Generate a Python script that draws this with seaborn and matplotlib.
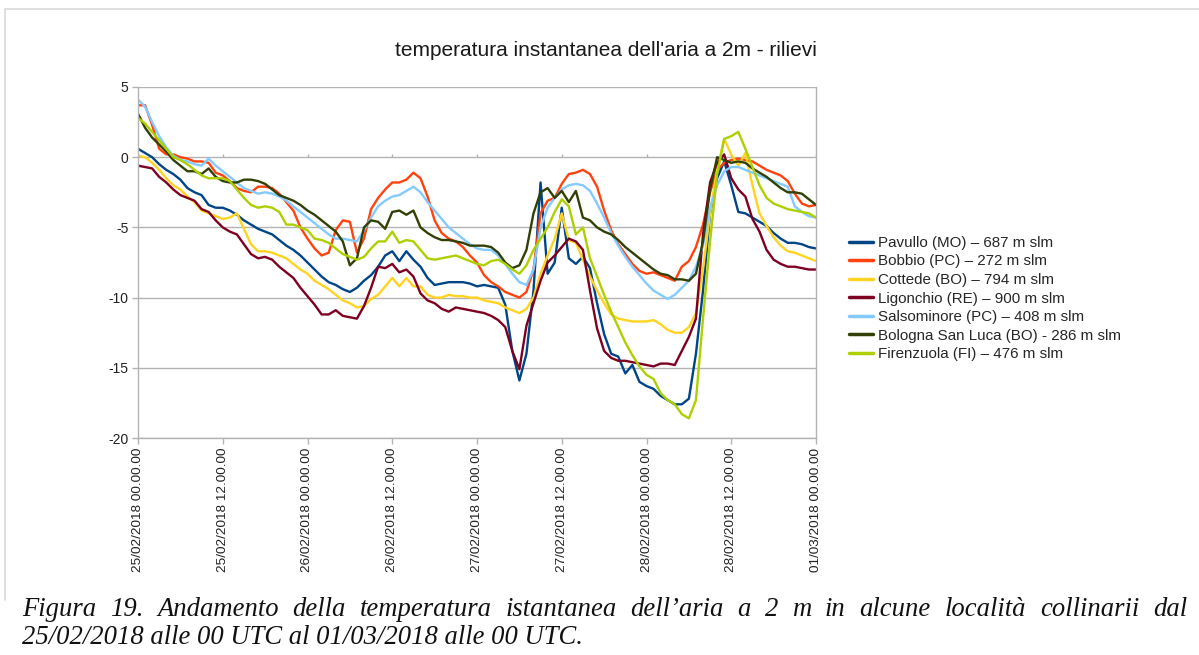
import numpy as np
import pandas as pd
import matplotlib
matplotlib.use("Agg")
import matplotlib.pyplot as plt
import seaborn as sns
from matplotlib.lines import Line2D

# ---------------- data (hourly, 25/02/2018 00 UTC -> 01/03/2018 00 UTC) ----------------
hours = list(range(97))

pavullo = [0.6, 0.3, 0.0, -0.5, -0.9, -1.2, -1.6, -2.2, -2.5, -2.7, -3.4, -3.6, -3.6, -3.8, -4.1, -4.5,
           -4.8, -5.1, -5.3, -5.5, -5.9, -6.3, -6.6, -7.0, -7.5, -8.0, -8.5, -8.9, -9.1, -9.4, -9.6, -9.3,
           -8.8, -8.4, -7.8, -7.0, -6.7, -7.4, -6.7, -7.3, -7.8, -8.6, -9.1, -9.0, -8.9, -8.9, -8.9, -9.0,
           -9.2, -9.1, -9.2, -9.3, -10.5, -13.8, -15.9, -14.0, -9.5, -1.8, -8.3, -7.5, -3.6, -7.2, -7.6, -7.1,
           -7.9, -10.4, -12.6, -14.0, -14.2, -15.4, -14.8, -16.0, -16.3, -16.5, -17.0, -17.3, -17.6, -17.6,
           -17.2, -14.0, -9.5, -4.0, -1.5, -0.3, -2.0, -3.9, -4.0, -4.3, -4.6, -4.9, -5.4, -5.8, -6.1, -6.1,
           -6.2, -6.4, -6.5]
bobbio = [3.7, 3.7, 2.3, 0.6, 0.2, 0.2, 0.0, -0.1, -0.3, -0.3, -0.4, -1.1, -1.3, -1.7, -2.2, -2.4,
          -2.5, -2.1, -2.1, -2.2, -2.6, -3.2, -3.8, -5.0, -5.8, -6.5, -7.0, -6.8, -5.2, -4.5, -4.6, -6.8,
          -5.8, -3.7, -2.9, -2.3, -1.8, -1.8, -1.6, -1.1, -1.5, -2.8, -4.5, -5.4, -5.8, -6.0, -6.4, -7.0,
          -7.5, -8.4, -8.9, -9.2, -9.6, -9.8, -10.0, -9.6, -8.0, -4.0, -3.1, -2.9, -1.9, -1.2, -1.1, -0.9,
          -1.2, -2.1, -3.8, -5.2, -6.2, -6.9, -7.6, -8.1, -8.3, -8.2, -8.4, -8.6, -8.8, -7.8, -7.4, -6.4,
          -4.8, -2.5, -0.9, -0.4, -0.2, -0.1, -0.2, -0.3, -0.6, -0.9, -1.1, -1.3, -1.7, -2.6, -3.3, -3.5,
          -3.4]
cottede = [0.1, 0.0, -0.4, -0.9, -1.5, -2.0, -2.3, -2.8, -3.2, -3.8, -4.0, -4.2, -4.4, -4.3, -4.0, -5.1,
           -6.2, -6.7, -6.7, -6.8, -7.0, -7.2, -7.6, -8.0, -8.3, -8.8, -9.1, -9.4, -9.8, -10.2, -10.4, -10.7,
           -10.6, -10.1, -9.8, -9.2, -8.6, -9.2, -8.6, -9.2, -9.2, -9.8, -10.0, -10.0, -9.8, -9.9, -9.9, -10.0,
           -10.0, -10.2, -10.3, -10.4, -10.7, -10.9, -11.1, -10.8, -10.0, -8.3, -7.0, -5.8, -4.0, -5.9, -6.1,
           -7.3, -8.5, -9.5, -10.4, -11.2, -11.5, -11.6, -11.7, -11.7, -11.7, -11.6, -11.9, -12.3, -12.5,
           -12.5, -12.1, -11.1, -8.0, -4.0, -0.9, 1.3, 0.2, -0.6, 0.3, -2.0, -4.0, -4.9, -5.7, -6.3, -6.7,
           -6.8, -7.0, -7.2, -7.4]
ligonchio = [-0.6, -0.7, -0.8, -1.4, -1.8, -2.3, -2.7, -2.9, -3.1, -3.7, -3.9, -4.5, -5.0, -5.3, -5.5, -6.2,
             -6.9, -7.2, -7.1, -7.3, -7.8, -8.2, -8.6, -9.3, -9.9, -10.5, -11.2, -11.2, -10.9, -11.3, -11.4,
             -11.5, -10.6, -9.3, -7.8, -7.9, -7.6, -8.2, -8.0, -8.5, -9.7, -10.2, -10.4, -10.8, -11.0, -10.7,
             -10.8, -10.9, -11.0, -11.1, -11.3, -11.6, -12.1, -13.8, -15.1, -12.0, -10.4, -8.8, -7.5, -7.0,
             -6.4, -5.8, -6.0, -6.6, -9.5, -12.2, -13.8, -14.3, -14.5, -14.5, -14.6, -14.7, -14.8, -14.9,
             -14.7, -14.7, -14.8, -13.8, -12.8, -11.5, -5.5, -1.8, -0.4, 0.2, -1.5, -2.3, -2.8, -4.4, -5.3,
             -6.6, -7.3, -7.6, -7.8, -7.8, -7.9, -8.0, -8.0]
salsominore = [4.1, 3.6, 2.5, 1.5, 0.7, 0.1, -0.2, -0.3, -0.5, -0.6, -0.1, -0.6, -1.0, -1.4, -1.8, -2.2,
               -2.4, -2.6, -2.5, -2.6, -2.8, -3.1, -3.5, -3.9, -4.3, -4.7, -5.1, -5.5, -5.8, -5.8, -5.9, -6.0,
               -5.2, -4.3, -3.5, -3.1, -2.8, -2.7, -2.4, -2.1, -2.5, -3.2, -3.8, -4.4, -5.0, -5.4, -5.8, -6.2,
               -6.5, -6.6, -6.6, -7.0, -7.6, -8.3, -8.9, -9.1, -8.0, -5.0, -3.6, -2.9, -2.3, -2.0, -1.9, -2.0,
               -2.4, -3.3, -4.3, -5.4, -6.3, -7.1, -7.8, -8.4, -9.0, -9.5, -9.8, -10.1, -9.8, -9.3, -8.8, -7.8,
               -6.3, -3.6, -2.0, -1.0, -0.7, -0.7, -0.9, -1.1, -1.3, -1.5, -1.7, -1.9, -2.1, -3.5, -3.9, -4.2,
               -4.3]
san_luca = [3.1, 2.1, 1.4, 0.9, 0.4, -0.2, -0.6, -1.0, -1.0, -1.2, -0.8, -1.4, -1.7, -1.8, -1.8, -1.6,
            -1.6, -1.7, -1.9, -2.3, -2.7, -2.9, -3.1, -3.4, -3.8, -4.1, -4.5, -4.9, -5.3, -6.0, -7.7, -7.2,
            -5.0, -4.5, -4.6, -5.1, -3.9, -3.8, -4.1, -3.8, -5.0, -5.4, -5.7, -5.9, -5.9, -6.0, -6.1, -6.3,
            -6.3, -6.3, -6.4, -6.8, -7.5, -7.9, -7.7, -6.6, -4.0, -2.5, -2.2, -2.9, -2.4, -3.2, -2.4, -4.3,
            -4.5, -5.0, -5.3, -5.5, -5.9, -6.4, -6.8, -7.2, -7.6, -8.0, -8.3, -8.4, -8.7, -8.7, -8.8, -8.3,
            -6.0, -2.3, 0.0, -0.2, -0.4, -0.3, -0.4, -0.8, -1.1, -1.4, -1.8, -2.2, -2.5, -2.5, -2.6, -3.0,
            -3.4]
firenzuola = [2.8, 2.4, 1.8, 1.2, 0.6, 0.0, -0.2, -0.5, -0.9, -1.3, -1.5, -1.5, -1.5, -1.7, -2.3, -2.9,
              -3.4, -3.6, -3.5, -3.6, -3.9, -4.8, -4.8, -5.0, -5.2, -5.8, -5.9, -6.1, -6.5, -6.9, -7.1, -7.3,
              -7.1, -6.5, -6.0, -6.0, -5.3, -6.1, -5.9, -6.0, -6.6, -7.2, -7.3, -7.2, -7.1, -7.0, -7.2, -7.4,
              -7.6, -7.7, -7.4, -7.3, -7.6, -8.0, -8.3, -7.7, -6.6, -5.8, -5.0, -3.9, -3.0, -3.5, -5.5, -5.0,
              -7.2, -8.5, -9.8, -11.0, -12.1, -13.2, -14.1, -14.9, -15.5, -15.8, -16.8, -17.3, -17.6, -18.3,
              -18.6, -17.3, -11.5, -6.0, -1.2, 1.3, 1.5, 1.8, 0.6, -0.7, -2.0, -2.9, -3.3, -3.5, -3.7, -3.8,
              -3.9, -4.0, -4.3]

station_names = ["Pavullo (MO) \u2013 687 m slm",
                 "Bobbio (PC) \u2013 272 m slm",
                 "Cottede (BO) \u2013 794 m slm",
                 "Ligonchio (RE) \u2013 900 m slm",
                 "Salsominore (PC) \u2013 408 m slm",
                 "Bologna San Luca (BO) - 286 m slm",
                 "Firenzuola (FI) \u2013 476 m slm"]
series = [pavullo, bobbio, cottede, ligonchio, salsominore, san_luca, firenzuola]
colors = ["#004586", "#ff420e", "#ffd320", "#7e0021", "#83caff", "#314004", "#aecf00"]

tick_hours = [0, 12, 24, 36, 48, 60, 72, 84, 96]
tick_labels = ["25/02/2018 00.00.00", "25/02/2018 12.00.00", "26/02/2018 00.00.00",
               "26/02/2018 12.00.00", "27/02/2018 00.00.00", "27/02/2018 12.00.00",
               "28/02/2018 00.00.00", "28/02/2018 12.00.00", "01/03/2018 00.00.00"]
y_ticks = [5, 0, -5, -10, -15, -20]

title = "temperatura instantanea dell'aria a 2m - rilievi"
caption_line1 = ("Figura 19. Andamento della temperatura istantanea dell\u2019aria a 2 m in alcune "
                 "località collinarii dal")
caption_line2 = "25/02/2018 alle 00 UTC al 01/03/2018 alle 00 UTC."

# ---------------- build table ----------------
frames = []
for name, vals in zip(station_names, series):
    frames.append(pd.DataFrame({"ora": hours, "temp": vals, "stazione": name}))
long_df = pd.concat(frames, ignore_index=True)

sns.set_theme(style="white")
plt.rcParams['font.family'] = ['Liberation Sans', 'DejaVu Sans']

W, H = 1199, 655
fig = plt.figure(figsize=(W / 100, H / 100), dpi=100)
fig.patch.set_facecolor("white")

ax_l, ax_r, ax_t, ax_b = 138, 816, 87, 438
ax = fig.add_axes([ax_l / W, 1 - ax_b / H, (ax_r - ax_l) / W, (ax_b - ax_t) / H])

sns.lineplot(data=long_df, x="ora", y="temp", hue="stazione", hue_order=station_names,
             palette=colors, linewidth=1.7, ax=ax, legend=False, estimator=None, sort=False)

grid_c = "#b3b3b3"
ax.set_xlim(0, 96)
ax.set_ylim(-20, 5)
ax.set_yticks(y_ticks)
ax.set_yticklabels([str(v) for v in y_ticks], fontsize=10, color="#222222")
ax.set_xticks(tick_hours)
ax.set_xticklabels(tick_labels, rotation=90, fontsize=9.7, color="#222222")
ax.yaxis.grid(True, color=grid_c, linewidth=1.0)
ax.xaxis.grid(False)
ax.set_axisbelow(True)
ax.set_xlabel("")
ax.set_ylabel("")
for s in ["left", "bottom", "right"]:
    ax.spines[s].set_color(grid_c)
    ax.spines[s].set_linewidth(1.0)
ax.spines["top"].set_visible(False)
ax.tick_params(axis="both", which="both", direction="out", length=4, width=1.0, color=grid_c,
               bottom=True, left=True, pad=3)
# small tick marks on the zero line (axis crossing)
ax.vlines(tick_hours, 0, 0.22, colors=grid_c, linewidth=1.0, zorder=1)

# legend
handles = [Line2D([0], [0], color=c, linewidth=2.5) for c in colors]
fig.legend(handles, station_names, loc="center left", bbox_to_anchor=(849 / W, 1 - 298.5 / H),
           frameon=False, fontsize=10.9, handlelength=1.6, handletextpad=0.3,
           labelspacing=0.3, borderpad=0, borderaxespad=0)

# title
fig.text(606 / W, 1 - 50 / H, title, ha="center", va="center", fontsize=15.0, color="#1a1a1a")

# outer frame (light grey)
fig.add_artist(Line2D([5 / W, 5 / W], [1 - 9 / H, 1 - 600 / H], color="#d9d9d9", linewidth=1.2,
                      transform=fig.transFigure))
fig.add_artist(Line2D([5 / W, 1.0], [1 - 9 / H, 1 - 9 / H], color="#d9d9d9", linewidth=1.2,
                      transform=fig.transFigure))

# caption (justified first line)
cap_font = dict(family=["Liberation Serif", "DejaVu Serif"], style="italic", fontsize=19.2,
                color="#111111")
renderer = fig.canvas.get_renderer()
x0, x1 = 22, 1187
words = caption_line1.split(" ")
texts = [fig.text(0, 1 - 616 / H, w, ha="left", va="baseline", **cap_font) for w in words]
widths = [t.get_window_extent(renderer).width for t in texts]
gap = (x1 - x0 - sum(widths)) / (len(words) - 1)
xpos = x0
for t, w in zip(texts, widths):
    t.set_x(xpos / W)
    xpos += w + gap
fig.text(x0 / W, 1 - 644 / H, caption_line2, ha="left", va="baseline", **cap_font)

fig.savefig("out.png", dpi=100, facecolor="white")
